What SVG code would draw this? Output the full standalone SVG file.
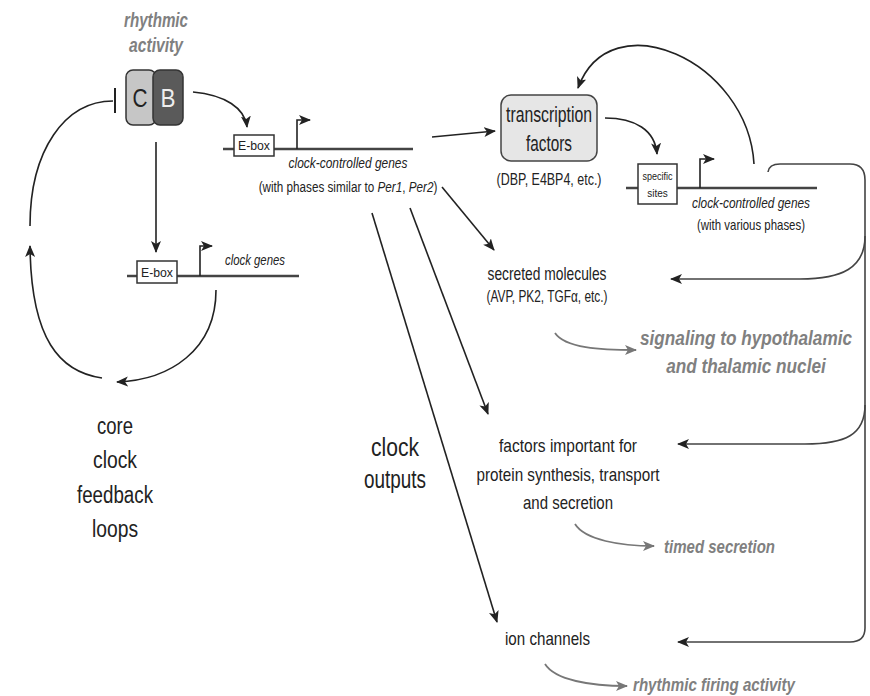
<svg xmlns="http://www.w3.org/2000/svg" width="870" height="696" viewBox="0 0 870 696">
<style>
text{font-family:"Liberation Sans",Arial,sans-serif;fill:#222}
.it{font-style:italic}
.g{fill:#808080;font-style:italic;font-weight:bold}
.ln{fill:none;stroke:#222;stroke-width:1.6}
.gl{fill:none;stroke:#777;stroke-width:1.8}
.gene{stroke:#444;stroke-width:2.5}
.box{fill:#fff;stroke:#333;stroke-width:1.5}
.br{fill:none;stroke:#444;stroke-width:1.6}
</style>
<defs>
<marker id="ah" markerUnits="userSpaceOnUse" markerWidth="14" markerHeight="12" refX="11" refY="5" orient="auto"><path d="M0,0 L12,5 L0,10 L3,5 z" fill="#222"/></marker>
<marker id="gh" markerUnits="userSpaceOnUse" markerWidth="14" markerHeight="12" refX="11" refY="5" orient="auto"><path d="M0,0 L12,5 L0,10 L3,5 z" fill="#777"/></marker>
</defs>
<rect width="870" height="696" fill="#fff"/>

<g id="clock-cb">
<text x="156" y="27" class="g" font-size="20" text-anchor="middle" textLength="64" lengthAdjust="spacingAndGlyphs">rhythmic</text>
<text x="156" y="52" class="g" font-size="20" text-anchor="middle" textLength="54" lengthAdjust="spacingAndGlyphs">activity</text>
<rect x="126" y="70" width="30" height="55" rx="7" fill="#c6c6c6" stroke="#333" stroke-width="1.5"/>
<rect x="153" y="70" width="30" height="55" rx="7" fill="#5a5a5a" stroke="#333" stroke-width="1.5"/>
<text x="140" y="107" font-size="26" text-anchor="middle" textLength="15" lengthAdjust="spacingAndGlyphs" fill="#333">C</text>
<text x="168" y="107" font-size="26" text-anchor="middle" textLength="15" lengthAdjust="spacingAndGlyphs" style="fill:#eee">B</text>
</g>

<g id="clock-genes">
<line x1="127" y1="276" x2="299" y2="276" class="gene"/>
<rect x="137" y="261" width="40" height="22" class="box"/>
<text x="157" y="277" font-size="12" text-anchor="middle" textLength="32" lengthAdjust="spacingAndGlyphs">E-box</text>
<path d="M200,276 V246 H212" class="ln" marker-end="url(#ah)"/>
<text x="225" y="265" class="it" font-size="15" textLength="60" lengthAdjust="spacingAndGlyphs">clock genes</text>
</g>

<g id="ccg-top">
<line x1="223" y1="149" x2="413" y2="149" class="gene"/>
<rect x="234" y="135" width="40" height="21" class="box"/>
<text x="254" y="150" font-size="12" text-anchor="middle" textLength="32" lengthAdjust="spacingAndGlyphs">E-box</text>
<path d="M297,149 V120 H310" class="ln" marker-end="url(#ah)"/>
<text x="348" y="168" class="it" font-size="15" text-anchor="middle" textLength="119" lengthAdjust="spacingAndGlyphs">clock-controlled genes</text>
<text transform="translate(348,192) scale(0.78,1)" font-size="15" text-anchor="middle">(with phases similar to <tspan class="it">Per1</tspan>, <tspan class="it">Per2</tspan>)</text>
</g>

<g id="tf">
<rect x="501" y="95" width="96" height="66" rx="10" fill="#e6e6e6" stroke="#444" stroke-width="1.5"/>
<text x="549" y="122" font-size="22" text-anchor="middle" textLength="86" lengthAdjust="spacingAndGlyphs">transcription</text>
<text x="549" y="151" font-size="22" text-anchor="middle" textLength="46" lengthAdjust="spacingAndGlyphs">factors</text>
<text x="549" y="185" font-size="16" text-anchor="middle" textLength="105" lengthAdjust="spacingAndGlyphs">(DBP, E4BP4, etc.)</text>
</g>

<g id="ccg-right">
<line x1="626" y1="188" x2="817" y2="188" class="gene"/>
<rect x="638" y="164" width="39" height="40" class="box"/>
<text x="657.5" y="180" font-size="10" text-anchor="middle" textLength="30" lengthAdjust="spacingAndGlyphs">specific</text>
<text x="657.5" y="197" font-size="10" text-anchor="middle">sites</text>
<path d="M700,188 V159 H714" class="ln" marker-end="url(#ah)"/>
<text x="751" y="208" class="it" font-size="15" text-anchor="middle" textLength="118" lengthAdjust="spacingAndGlyphs">clock-controlled genes</text>
<text x="751" y="230" font-size="15" text-anchor="middle" textLength="108" lengthAdjust="spacingAndGlyphs">(with various phases)</text>
</g>

<g id="secreted">
<text x="547" y="280" font-size="19" text-anchor="middle" textLength="119" lengthAdjust="spacingAndGlyphs">secreted molecules</text>
<text x="547" y="302" font-size="16" text-anchor="middle" textLength="121" lengthAdjust="spacingAndGlyphs">(AVP, PK2, TGFα, etc.)</text>
<text transform="translate(746,345) scale(0.86,1)" class="g" font-size="20" text-anchor="middle">signaling to hypothalamic</text>
<text transform="translate(746,373) scale(0.86,1)" class="g" font-size="20" text-anchor="middle">and thalamic nuclei</text>
</g>

<g id="factors">
<text x="568" y="452" font-size="19" text-anchor="middle" textLength="138" lengthAdjust="spacingAndGlyphs">factors important for</text>
<text x="568" y="481" font-size="19" text-anchor="middle" textLength="183" lengthAdjust="spacingAndGlyphs">protein synthesis, transport</text>
<text x="568" y="509" font-size="19" text-anchor="middle" textLength="90" lengthAdjust="spacingAndGlyphs">and secretion</text>
<text x="664" y="553" class="g" font-size="19" textLength="111" lengthAdjust="spacingAndGlyphs">timed secretion</text>
</g>

<g id="ion">
<text x="505" y="645" font-size="19" textLength="85" lengthAdjust="spacingAndGlyphs">ion channels</text>
<text x="633" y="691" class="g" font-size="19" textLength="162" lengthAdjust="spacingAndGlyphs">rhythmic firing activity</text>
</g>

<g id="labels">
<text x="115" y="434" font-size="23" text-anchor="middle" textLength="36" lengthAdjust="spacingAndGlyphs">core</text>
<text x="115" y="468" font-size="23" text-anchor="middle" textLength="44" lengthAdjust="spacingAndGlyphs">clock</text>
<text x="115" y="503" font-size="23" text-anchor="middle" textLength="76" lengthAdjust="spacingAndGlyphs">feedback</text>
<text x="115" y="537" font-size="23" text-anchor="middle" textLength="46" lengthAdjust="spacingAndGlyphs">loops</text>
<text x="395" y="456" font-size="25" text-anchor="middle" textLength="48" lengthAdjust="spacingAndGlyphs">clock</text>
<text x="395" y="488" font-size="25" text-anchor="middle" textLength="62" lengthAdjust="spacingAndGlyphs">outputs</text>
</g>

<g id="connectors">
<path d="M30,226 C30,150 65,101 113,101" class="ln"/>
<line x1="115" y1="88" x2="115" y2="113" stroke="#222" stroke-width="2"/>
<path d="M102,378 C60,372 31,340 30,246" class="ln" marker-end="url(#ah)"/>
<path d="M216,290 C216,350 170,380 117,382" class="ln" marker-end="url(#ah)"/>
<path d="M156,142 L156,252" class="ln" marker-end="url(#ah)"/>
<path d="M193,92 C225,95 245,108 247,127" class="ln" marker-end="url(#ah)"/>
<path d="M432,137 L495,131" class="ln" marker-end="url(#ah)"/>
<path d="M605,118 C635,118 655,130 657,154" class="ln" marker-end="url(#ah)"/>
<path d="M754,164 C748,60 610,0 578,88" class="ln" marker-end="url(#ah)"/>
<path d="M442,187 L494,250" class="ln" marker-end="url(#ah)"/>
<path d="M410,208 L488,414" class="ln" marker-end="url(#ah)"/>
<path d="M372,213 L497,622" class="ln" marker-end="url(#ah)"/>
<path d="M768,172 Q769,164 780,164 L850,164 Q865,164 865,180 L865,628 Q865,642 850,642 L678,642" class="br" marker-end="url(#ah)"/>
<path d="M865,236 C865,268 842,279 800,279 L671,279" class="br" marker-end="url(#ah)"/>
<path d="M865,405 C865,435 845,444 805,444 L678,444" class="br" marker-end="url(#ah)"/>
<path d="M555,333 C565,348 600,350 636,350" class="gl" marker-end="url(#gh)"/>
<path d="M575,524 C585,540 620,546 654,546" class="gl" marker-end="url(#gh)"/>
<path d="M545,664 C555,680 590,686 627,686" class="gl" marker-end="url(#gh)"/>
</g>
</svg>
